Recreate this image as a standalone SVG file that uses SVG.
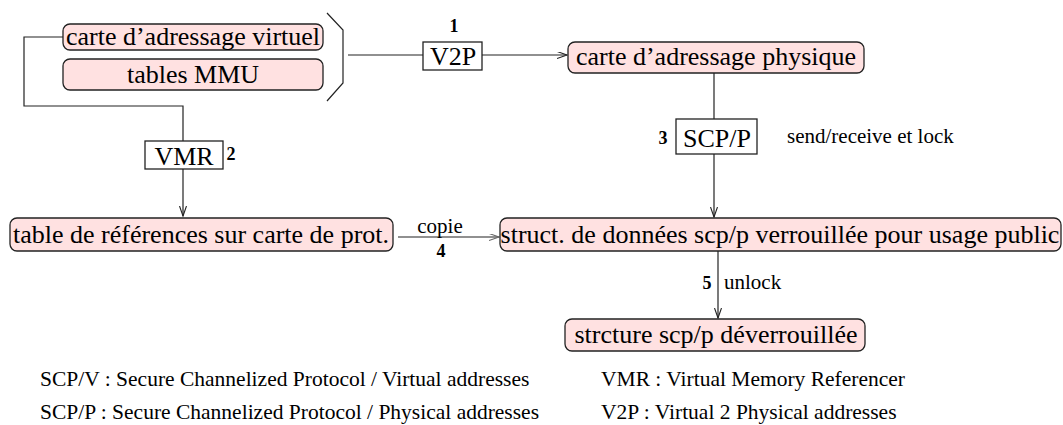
<svg xmlns="http://www.w3.org/2000/svg" width="1063" height="425" viewBox="0 0 1063 425">
<style>
text{font-family:'Liberation Serif','Times New Roman',Times,serif;fill:#000}
.node{fill:#ffe1e1;stroke:#222;stroke-width:1.3}
.box{fill:#fff;stroke:#222;stroke-width:1.3}
.t{font-size:26px;text-anchor:middle}
.b{font-size:18px;font-weight:bold;text-anchor:middle}
.s{font-size:21px}
.l{font-size:21.5px}
.c{fill:none;stroke:#222;stroke-width:1.2}
</style>
<defs>
<marker id="a" markerWidth="12" markerHeight="8" refX="10" refY="3.5" orient="auto" markerUnits="userSpaceOnUse">
<path d="M0,0 L10,3.5 L0,7" fill="none" stroke="#222" stroke-width="1.1"/>
</marker>
<marker id="g" markerWidth="12" markerHeight="8" refX="10" refY="3.5" orient="auto" markerUnits="userSpaceOnUse">
<path d="M0,0 L10,3.5 L0,7" fill="none" stroke="#666" stroke-width="1.1"/>
</marker>
</defs>
<rect width="1063" height="425" fill="#fff"/>
<g id="connectors">
<polyline class="c" points="327,13 343,30 343,83 327,101"/>
<polyline class="c" points="63,37 24,37 24,106 183,106 183,141"/>
<line class="c" x1="183" y1="169" x2="183" y2="216" marker-end="url(#a)"/>
<line class="c" x1="348" y1="55" x2="423" y2="55"/>
<line class="c" x1="482" y1="55" x2="567" y2="55" marker-end="url(#a)"/>
<line class="c" x1="714" y1="73" x2="714" y2="119"/>
<line class="c" x1="714" y1="154" x2="714" y2="217" marker-end="url(#a)"/>
<line class="c" x1="398" y1="237" x2="499" y2="237" stroke="#666" marker-end="url(#g)"/>
<line class="c" x1="718" y1="251" x2="718" y2="318" marker-end="url(#a)"/>
<text class="s" x="440" y="233" text-anchor="middle">copie</text>
<text class="b" x="441" y="257">4</text>
<text class="b" x="707" y="289">5</text>
<text class="s" x="724" y="289">unlock</text>
<text class="s" x="787" y="143">send/receive et lock</text>
</g>
<g id="n-virtuel"><rect class="node" x="63" y="24" width="260" height="26" rx="7"/><text class="t" x="193" y="45">carte d’adressage virtuel</text></g>
<g id="n-mmu"><rect class="node" x="63" y="59" width="260" height="31" rx="7"/><text class="t" x="193" y="83">tables MMU</text></g>
<g id="n-v2p"><rect class="box" x="423" y="42" width="59" height="28"/><text class="t" x="453" y="65">V2P</text><text class="b" x="454" y="32">1</text></g>
<g id="n-physique"><rect class="node" x="568" y="42" width="296" height="31" rx="7"/><text class="t" x="716" y="65">carte d’adressage physique</text></g>
<g id="n-vmr"><rect class="box" x="145" y="141" width="78" height="28"/><text class="t" x="184" y="165">VMR</text><text class="b" x="231" y="160">2</text></g>
<g id="n-scpp"><rect class="box" x="676" y="119" width="81" height="35"/><text class="t" x="717" y="147">SCP/P</text><text class="b" x="663" y="144">3</text></g>
<g id="n-table"><rect class="node" x="10" y="218" width="383" height="33" rx="7"/><text class="t" x="201" y="243">table de références sur carte de prot.</text></g>
<g id="n-struct"><rect class="node" x="500" y="218" width="561" height="33" rx="7"/><text class="t" x="780" y="243">struct. de données scp/p verrouillée pour usage public</text></g>
<g id="n-unlocked"><rect class="node" x="565" y="319" width="300" height="32" rx="7"/><text class="t" x="716" y="343">strcture scp/p déverrouillée</text></g>
<g id="legend">
<text class="l" x="40" y="386">SCP/V : Secure Channelized Protocol / Virtual addresses</text>
<text class="l" x="40" y="419">SCP/P : Secure Channelized Protocol / Physical addresses</text>
<text class="l" x="601" y="386">VMR : Virtual Memory Referencer</text>
<text class="l" x="601" y="419">V2P : Virtual 2 Physical addresses</text>
</g>
</svg>
